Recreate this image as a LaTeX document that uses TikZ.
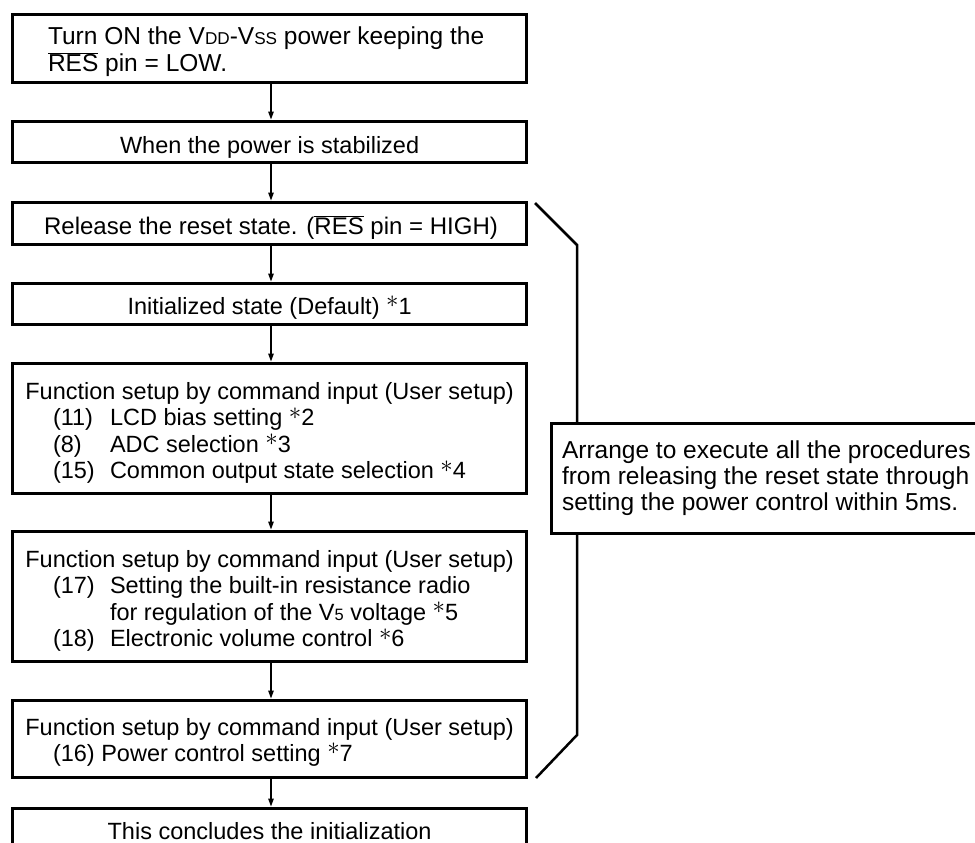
\documentclass[tikz,border=0pt]{standalone}
\usepackage{fontspec}
\setmainfont{Liberation Sans}
\usetikzlibrary{arrows.meta}
\newcommand\sm[1]{{\fontsize{0.7em}{1em}\selectfont #1}}
\newcommand\ovl[1]{$\overline{\hbox{#1}}$}
\newcommand\stmark{\raisebox{0.26em}{$\ast$}}
\tikzset{
  box/.style={draw, line width=3pt, fill=white, inner sep=0pt, outer sep=0pt},
  txt/.style={inner sep=0pt, outer sep=0pt, font=\fontsize{23.5}{26.5}\selectfont},
  txtl/.style={inner sep=0pt, outer sep=0pt, font=\fontsize{24.5}{27}\selectfont},
  arr/.style={line width=1.3pt, -{Triangle[length=8pt,width=5.5pt]}, shorten >=1.5pt},
  brk/.style={line width=2.5pt}
}
\begin{document}
\begin{tikzpicture}[x=1pt,y=-1pt]
\useasboundingbox (0,0) rectangle (975,843);
\clip (0,0) rectangle (975,843);
\fill[white] (0,0) rectangle (975,843);
% bracket
\coordinate (k1) at (535,203);
\coordinate (k2) at (577,245);
\coordinate (k3) at (577,735);
\coordinate (k4) at (536,778);
\draw[brk] (k1) -- (k2) -- (k3) -- (k4);
% boxes
\node[box, minimum width=514pt, minimum height=67.5pt] (b1) at (269.6,48.75) {};
\node[box, minimum width=514pt, minimum height=41pt] (b2) at (269.6,141.5) {};
\node[box, minimum width=514pt, minimum height=42pt] (b3) at (269.6,223) {};
\node[box, minimum width=514pt, minimum height=41pt] (b4) at (269.6,303.5) {};
\node[box, minimum width=514pt, minimum height=130pt] (b5) at (269.6,428) {};
\node[box, minimum width=514pt, minimum height=130pt] (b6) at (269.6,596) {};
\node[box, minimum width=514pt, minimum height=77pt] (b7) at (269.6,738.5) {};
\node[box, minimum width=514pt, minimum height=72pt] (b8) at (269.6,844) {};
\node[box, minimum width=449pt, minimum height=110pt] (note) at (775.5,478) {};
% arrows
\foreach \a/\b in {b1/b2,b2/b3,b3/b4,b4/b5,b5/b6,b6/b7,b7/b8}
  \draw[arr] ([xshift=1.4pt]\a.south) -- ([xshift=1.4pt]\b.north);
% texts
\node[txtl, anchor=base west] (t1a) at (48,45) {Turn ON the V\sm{DD}-V\sm{SS} power keeping the};
\node[txtl, anchor=base west] (t1b) at (48,72) {\ovl{RES} pin = LOW.};
\node[txt, anchor=base] (t2) at (269.6,153) {When the power is stabilized};
\node[txt, anchor=base, font=\fontsize{24}{27}\selectfont] (t3) at (271,234) {Release the reset state. (\ovl{RES} pin = HIGH)};
\node[txt, anchor=base] (t4) at (269.6,314) {Initialized state (Default) \stmark1};
\node[txt, anchor=base] (t5) at (269.6,399) {Function setup by command input (User setup)};
\node[txt, anchor=base west] (t5an) at (53,425.5) {(11)};
\node[txt, anchor=base west] (t5a) at (110,425.5) {LCD bias setting \stmark2};
\node[txt, anchor=base west] (t5bn) at (53,452) {(8)};
\node[txt, anchor=base west] (t5b) at (110,452) {ADC selection \stmark3};
\node[txt, anchor=base west] (t5cn) at (53,478.5) {(15)};
\node[txt, anchor=base west] (t5c) at (110,478.5) {Common output state selection \stmark4};
\node[txt, anchor=base] (t6) at (269.6,567) {Function setup by command input (User setup)};
\node[txt, anchor=base west] (t6an) at (53,593.5) {(17)};
\node[txt, anchor=base west] (t6a) at (110,593.5) {Setting the built-in resistance radio};
\node[txt, anchor=base west] (t6b) at (110,620) {for regulation of the V\sm{5} voltage \stmark5};
\node[txt, anchor=base west] (t6cn) at (53,646.5) {(18)};
\node[txt, anchor=base west] (t6c) at (110,646.5) {Electronic volume control \stmark6};
\node[txt, anchor=base] (t7) at (269.6,735) {Function setup by command input (User setup)};
\node[txt, anchor=base west] (t7a) at (53,761) {(16) Power control setting \stmark7};
\node[txt, anchor=base] (t8) at (269.6,839) {This concludes the initialization};
\node[txtl, anchor=base west] (n1) at (562,458) {Arrange to execute all the procedures};
\node[txtl, anchor=base west] (n2) at (562,484) {from releasing the reset state through};
\node[txtl, anchor=base west] (n3) at (562,510) {setting the power control within 5ms.};
\end{tikzpicture}
\end{document}
